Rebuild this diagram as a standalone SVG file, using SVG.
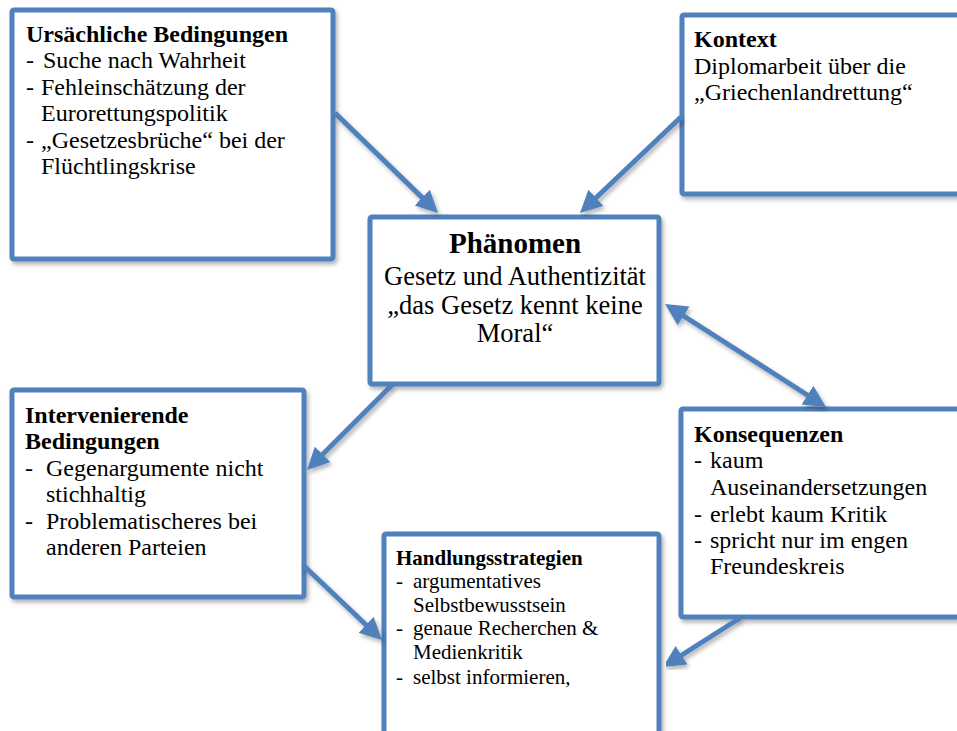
<svg xmlns="http://www.w3.org/2000/svg" width="957" height="731" viewBox="0 0 957 731">
<style>
.box{fill:#fff;stroke:#4f81bd;stroke-width:5;filter:url(#sh)}
.t{font-family:"Liberation Serif","Times New Roman",serif;font-size:24px;fill:#000}
.s{font-size:21px}
.b{font-weight:bold}
.c{stroke:#4f81bd;stroke-width:5;fill:none;filter:url(#sh)}
</style>
<defs>
<filter id="sh" x="-10%" y="-10%" width="130%" height="130%">
<feDropShadow dx="2" dy="3" stdDeviation="2" flood-color="#000" flood-opacity="0.3"/>
</filter>
<marker id="ah" markerUnits="userSpaceOnUse" markerWidth="24" markerHeight="24" refX="10" refY="11" orient="auto-start-reverse" viewBox="0 0 24 24">
<path d="M0,0 L22,11 L0,22 z" fill="#4f81bd"/>
</marker>
</defs>
<line x1="62" y1="297" x2="912" y2="297" stroke="#4f81bd" stroke-width="8" stroke-dasharray="19 11.5" filter="url(#sh)"/>
<g id="ursaechliche">
<rect class="box" x="12" y="10" width="321" height="249" rx="2"/>
<text class="t b" x="26" y="42">Ursächliche Bedingungen</text>
<text class="t" x="26" y="68">-</text><text class="t" x="43" y="68">Suche nach Wahrheit</text>
<text class="t" x="26" y="95">-</text><text class="t" x="41" y="95">Fehleinschätzung der</text>
<text class="t" x="41" y="121">Eurorettungspolitik</text>
<text class="t" x="26" y="148">-</text><text class="t" x="41" y="148">„Gesetzesbrüche“ bei der</text>
<text class="t" x="41" y="174">Flüchtlingskrise</text>
</g>
<g id="kontext">
<rect class="box" x="682" y="15" width="300" height="179" rx="2"/>
<text class="t b" x="694" y="47">Kontext</text>
<text class="t" x="694" y="74">Diplomarbeit über die</text>
<text class="t" x="694" y="100">„Griechenlandrettung“</text>
</g>
<g id="phaenomen">
<rect class="box" x="370" y="217" width="289" height="167" rx="2"/>
<text class="t b" x="515" y="253" text-anchor="middle" style="font-size:29px">Phänomen</text>
<text class="t" x="515" y="285" text-anchor="middle" style="font-size:26.5px">Gesetz und Authentizität</text>
<text class="t" x="515" y="314" text-anchor="middle" style="font-size:26.5px">„das Gesetz kennt keine</text>
<text class="t" x="515" y="342" text-anchor="middle" style="font-size:26.5px">Moral“</text>
</g>
<g id="intervenierende">
<rect class="box" x="12" y="390" width="292" height="207" rx="2"/>
<text class="t b" x="25" y="423">Intervenierende</text>
<text class="t b" x="25" y="449">Bedingungen</text>
<text class="t" x="25" y="476">-</text><text class="t" x="46" y="476">Gegenargumente nicht</text>
<text class="t" x="46" y="502">stichhaltig</text>
<text class="t" x="25" y="529">-</text><text class="t" x="46" y="529">Problematischeres bei</text>
<text class="t" x="46" y="555">anderen Parteien</text>
</g>
<g id="handlungsstrategien">
<rect class="box" x="384" y="534" width="275" height="250" rx="2"/>
<text class="t s b" x="396" y="565">Handlungsstrategien</text>
<text class="t s" x="396" y="588">-</text><text class="t s" x="413" y="588">argumentatives</text>
<text class="t s" x="413" y="612">Selbstbewusstsein</text>
<text class="t s" x="396" y="635">-</text><text class="t s" x="413" y="635">genaue Recherchen &amp;</text>
<text class="t s" x="413" y="659">Medienkritik</text>
<text class="t s" x="396" y="684">-</text><text class="t s" x="413" y="684">selbst informieren,</text>
</g>
<g id="konsequenzen">
<rect class="box" x="681" y="409" width="300" height="208" rx="2"/>
<text class="t b" x="694" y="442">Konsequenzen</text>
<text class="t" x="694" y="468">-</text><text class="t" x="710" y="468">kaum</text>
<text class="t" x="710" y="495">Auseinandersetzungen</text>
<text class="t" x="694" y="522">-</text><text class="t" x="710" y="522">erlebt kaum Kritik</text>
<text class="t" x="694" y="548">-</text><text class="t" x="710" y="548">spricht nur im engen</text>
<text class="t" x="710" y="574">Freundeskreis</text>
</g>
<g id="connectors">
<line class="c" x1="335" y1="113" x2="429.4" y2="204.6" marker-end="url(#ah)"/>
<line class="c" x1="681" y1="117" x2="588.7" y2="204.7" marker-end="url(#ah)"/>
<line class="c" x1="392" y1="385" x2="315.5" y2="461.5" marker-end="url(#ah)"/>
<line class="c" x1="521" y1="398" x2="521" y2="519" marker-start="url(#ah)" marker-end="url(#ah)"/>
<line class="c" x1="675.1" y1="310.5" x2="815.9" y2="400.5" marker-start="url(#ah)" marker-end="url(#ah)"/>
<line class="c" x1="303" y1="565" x2="373.3" y2="631.7" marker-end="url(#ah)"/>
<line class="c" x1="740" y1="618" x2="673.1" y2="660.6" marker-end="url(#ah)"/>
</g>
</svg>
